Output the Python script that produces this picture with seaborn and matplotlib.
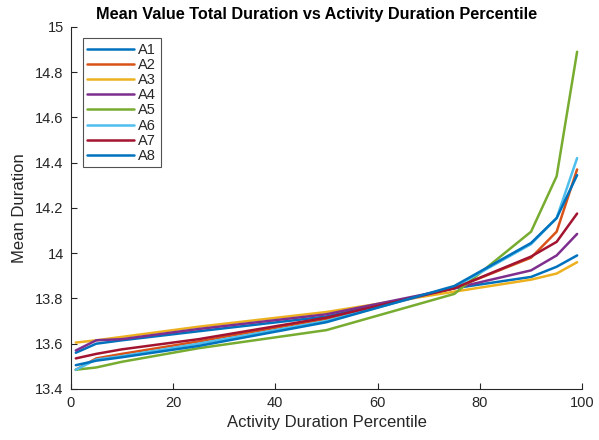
import pandas as pd
import matplotlib
matplotlib.use("Agg")
import matplotlib.pyplot as plt
import seaborn as sns

# percentile points on the x axis
percentiles = [1, 5, 10, 25, 50, 75, 90, 95, 99]

a1 = [13.56, 13.60, 13.615, 13.655, 13.72, 13.845, 13.895, 13.94, 13.99]
a2 = [13.485, 13.535, 13.555, 13.61, 13.71, 13.845, 13.98, 14.095, 14.37]
a3 = [13.605, 13.615, 13.63, 13.675, 13.74, 13.83, 13.883, 13.91, 13.96]
a4 = [13.57, 13.615, 13.62, 13.665, 13.73, 13.845, 13.924, 13.99, 14.085]
a5 = [13.485, 13.495, 13.52, 13.58, 13.66, 13.82, 14.095, 14.34, 14.89]
a6 = [13.485, 13.53, 13.545, 13.60, 13.70, 13.85, 14.04, 14.155, 14.42]
a7 = [13.535, 13.555, 13.575, 13.62, 13.715, 13.845, 13.985, 14.05, 14.175]
a8 = [13.505, 13.525, 13.54, 13.59, 13.695, 13.855, 14.045, 14.155, 14.345]

series = {"A1": a1, "A2": a2, "A3": a3, "A4": a4,
          "A5": a5, "A6": a6, "A7": a7, "A8": a8}

colors = ["#0072BD", "#D95319", "#EDB120", "#7E2F8E",
          "#77AC30", "#4DBEEE", "#A2142F", "#0072BD"]

rows = []
for name, vals in series.items():
    for p, v in zip(percentiles, vals):
        rows.append({"Percentile": p, "Mean": v, "Series": name})
df = pd.DataFrame(rows)

sns.set_theme(style="white")
plt.rcParams['font.family'] = ['Liberation Sans', 'DejaVu Sans']

fig = plt.figure(figsize=(5.99, 4.40), dpi=100)
ax = fig.add_axes([0.118, 0.116, 0.854, 0.823])

sns.lineplot(data=df, x="Percentile", y="Mean", hue="Series",
             palette=colors, linewidth=1.8, ax=ax, sort=False)

ax.set_xlim(0, 100)
ax.set_ylim(13.4, 15)
ax.set_xticks([0, 20, 40, 60, 80, 100])
ax.set_yticks([13.4, 13.6, 13.8, 14, 14.2, 14.4, 14.6, 14.8, 15])
ax.set_yticklabels(["13.4", "13.6", "13.8", "14", "14.2", "14.4", "14.6", "14.8", "15"])
ax.tick_params(direction="in", length=4, width=0.8, labelsize=10.5,
               colors="#262626", bottom=True, left=True, pad=5)
for s in ["top", "right"]:
    ax.spines[s].set_visible(False)
for s in ["left", "bottom"]:
    ax.spines[s].set_color("#262626")
    ax.spines[s].set_linewidth(0.8)

ax.set_xlabel("Activity Duration Percentile", fontsize=12, color="#262626")
ax.set_ylabel("Mean Duration", fontsize=12, color="#262626", labelpad=6)
ax.set_title("Mean Value Total Duration vs Activity Duration Percentile",
             fontsize=11.7, fontweight="bold", color="black", pad=6, x=0.48)

leg = ax.legend(loc="upper left", bbox_to_anchor=(0.024, 0.968), fontsize=10.5,
                frameon=True, fancybox=False, borderpad=0.3, labelspacing=0.08,
                handlelength=3.2, handletextpad=0.3, borderaxespad=0)
leg.get_frame().set_edgecolor("#262626")
leg.get_frame().set_linewidth(0.8)

fig.savefig("out.png", dpi=100)
